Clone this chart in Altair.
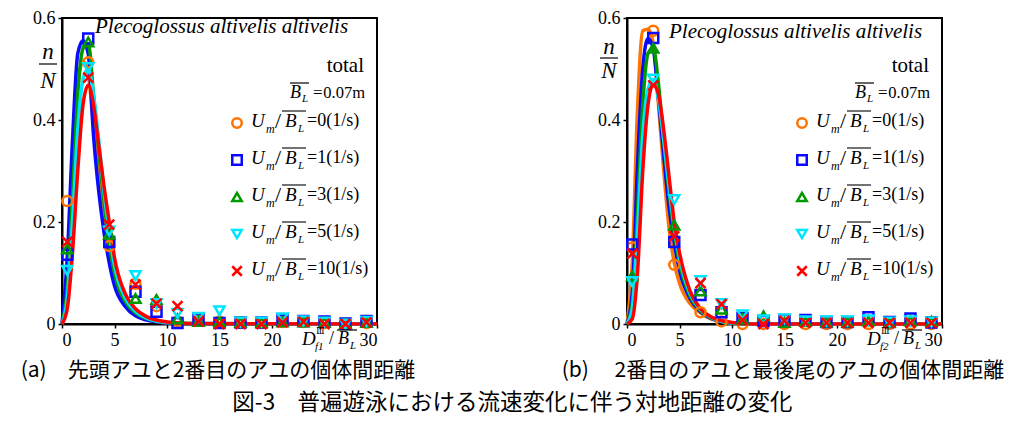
import altair as alt
import pandas as pd

# ---------------- data ----------------
SERIES = ["0", "1", "3", "5", "10"]
COLORS = ["#ff7300", "#0a0aff", "#009900", "#00e5ff", "#ff0000"]
SHAPES = ["circle", "square", "triangle-up", "triangle-down", "M-1,-1L1,1M-1,1L1,-1"]

BIN_X = [0.5, 2.5, 4.5, 7, 9, 11, 13, 15, 17, 19, 21, 23, 25, 27, 29]
CURVE_X = [0, 0.5, 1, 1.5, 2, 2.5, 3, 3.5, 4, 4.5, 5, 6, 7, 8, 10, 12, 30]

# panel (a): measured frequencies
A_PT_0 = [0.241, 0.513, 0.153, 0.079, 0.035, 0.005, 0.008, 0.005, 0.002, 0.002, 0.004, 0.004, 0.002, 0.0, 0.002]
A_PT_1 = [0.136, 0.560, 0.161, 0.063, 0.024, 0.002, 0.010, 0.002, 0.003, 0.003, 0.008, 0.006, 0.005, 0.001, 0.006]
A_PT_3 = [0.147, 0.553, 0.176, 0.050, 0.048, 0.010, 0.005, 0.005, 0.003, 0.003, 0.004, 0.004, 0.003, 0.001, 0.003]
A_PT_5 = [0.105, 0.503, 0.182, 0.095, 0.040, 0.021, 0.013, 0.026, 0.004, 0.004, 0.012, 0.006, 0.004, 0.0, 0.005]
A_PT_10 = [0.161, 0.483, 0.195, 0.077, 0.040, 0.035, 0.005, 0.0, 0.0, 0.0, 0.003, 0.004, 0.0, 0.0, 0.003]

# panel (a): fitted curves
A_CV_0 = [0, 0.09, 0.30, 0.47, 0.515, 0.49, 0.39, 0.30, 0.21, 0.14, 0.09, 0.042, 0.020, 0.010, 0.002, 0.0005, 0]
A_CV_1 = [0, 0.13, 0.36, 0.53, 0.556, 0.53, 0.37, 0.26, 0.18, 0.12, 0.075, 0.035, 0.016, 0.008, 0.002, 0.0005, 0]
A_CV_3 = [0, 0.07, 0.25, 0.45, 0.54, 0.55, 0.45, 0.34, 0.24, 0.16, 0.10, 0.045, 0.022, 0.011, 0.003, 0.001, 0]
A_CV_5 = [0, 0.05, 0.20, 0.38, 0.48, 0.50, 0.45, 0.36, 0.26, 0.18, 0.115, 0.052, 0.025, 0.012, 0.003, 0.001, 0]
A_CV_10 = [0, 0.03, 0.14, 0.30, 0.43, 0.468, 0.43, 0.35, 0.27, 0.20, 0.13, 0.060, 0.030, 0.015, 0.004, 0.001, 0]

# panel (b): measured frequencies
B_PT_0 = [0.150, 0.575, 0.116, 0.023, 0.005, 0.0, 0.0, 0.0, 0.0, 0.0, 0.0, 0.0, 0.0, 0.0, 0.0]
B_PT_1 = [0.156, 0.561, 0.161, 0.057, 0.023, 0.012, 0.006, 0.008, 0.008, 0.004, 0.004, 0.013, 0.004, 0.011, 0.003]
B_PT_3 = [0.094, 0.541, 0.194, 0.065, 0.029, 0.010, 0.016, 0.003, 0.005, 0.004, 0.004, 0.006, 0.003, 0.006, 0.005]
B_PT_5 = [0.083, 0.480, 0.244, 0.085, 0.040, 0.018, 0.008, 0.010, 0.006, 0.006, 0.006, 0.008, 0.004, 0.006, 0.004]
B_PT_10 = [0.138, 0.468, 0.172, 0.080, 0.039, 0.008, 0.0, 0.006, 0.002, 0.002, 0.002, 0.002, 0.002, 0.002, 0.002]

# panel (b): fitted curves
B_CV_0 = [0, 0.12, 0.42, 0.575, 0.578, 0.55, 0.43, 0.30, 0.19, 0.12, 0.08, 0.040, 0.022, 0.010, 0.002, 0.0, 0]
B_CV_1 = [0, 0.06, 0.31, 0.50, 0.56, 0.54, 0.44, 0.33, 0.23, 0.16, 0.105, 0.050, 0.024, 0.011, 0.002, 0.0, 0]
B_CV_3 = [0, 0.04, 0.22, 0.43, 0.53, 0.54, 0.47, 0.36, 0.26, 0.18, 0.12, 0.055, 0.026, 0.012, 0.002, 0.0, 0]
B_CV_5 = [0, 0.03, 0.18, 0.37, 0.46, 0.48, 0.44, 0.36, 0.27, 0.19, 0.13, 0.060, 0.028, 0.013, 0.002, 0.0, 0]
B_CV_10 = [0, 0.01, 0.10, 0.30, 0.43, 0.47, 0.45, 0.38, 0.29, 0.20, 0.14, 0.065, 0.030, 0.014, 0.003, 0.0, 0]

X_TICKS = [0, 5, 10, 15, 20, 25, 30]
Y_TICKS = [0, 0.2, 0.4, 0.6]

SPECIES = "Plecoglossus altivelis altivelis"
TOTAL = "total"
BL_EQ = "="
BL_VALUE = "0.07m"
CAP_A = "(a)\u3000先頭アユと2番目のアユの個体間距離"
CAP_B = "(b)\u3000 2番目のアユと最後尾のアユの個体間距離"
FIG_CAP = "図-3\u3000普遍遊泳における流速変化に伴う対地距離の変化"

# ---------------- layout / style ----------------
W, H = 315, 306
SERIF = "Liberation Serif"
JP = "Noto Sans CJK JP"


def txt(text, x, y, size=18, italic=False, align="left", baseline="middle", font=SERIF, weight="normal"):
    return alt.Chart(pd.DataFrame({"t": [text]})).mark_text(
        font=font, fontSize=size, fontStyle="italic" if italic else "normal",
        fontWeight=weight, align=align, baseline=baseline, color="black"
    ).encode(x=alt.value(x), y=alt.value(y), text="t:N")


def hline(x1, x2, y, w=1.2):
    return alt.Chart(pd.DataFrame({"k": [0]})).mark_rule(color="black", strokeWidth=w).encode(
        x=alt.value(x1), x2=alt.value(x2), y=alt.value(y))


def panel(pts, cvs, sub, caption, title_x, title_y, nx, n_y, bar_y, N_y):
    xs = alt.X("x:Q", scale=alt.Scale(domain=[0, 30], nice=False),
               axis=alt.Axis(values=X_TICKS, labelExpr="datum.value == 25 ? '' : datum.label",
                             title=None, grid=False, labelFont=SERIF, labelFontSize=18))
    ys = alt.Y("y:Q", scale=alt.Scale(domain=[0, 0.6], nice=False),
               axis=alt.Axis(values=Y_TICKS,
                             labelExpr="datum.value == 0 ? '0' : format(datum.value, '.1f')",
                             title=None, grid=False, labelFont=SERIF, labelFontSize=18))
    color = alt.Color("series:N", scale=alt.Scale(domain=SERIES, range=COLORS), legend=None)
    shape = alt.Shape("series:N", scale=alt.Scale(domain=SERIES, range=SHAPES), legend=None)

    layers = []
    for arr, c in zip(cvs, COLORS):
        df = pd.DataFrame({"x": CURVE_X, "y": arr})
        layers.append(alt.Chart(df).mark_line(color=c, strokeWidth=3.5, interpolate="monotone")
                      .encode(x=xs, y=ys))

    rows = []
    for s, arr in zip(SERIES, pts):
        for xv, yv in zip(BIN_X, arr):
            rows.append({"x": xv, "y": yv, "series": s})
    pdf = pd.DataFrame(rows)
    layers.append(alt.Chart(pdf).mark_point(filled=False, strokeWidth=2.5, size=100, opacity=1)
                  .encode(x=xs, y=ys, color=color, shape=shape))

    # custom legend (rows laid out in plot-pixel space, converted to data units)
    ldf = pd.DataFrame({"series": SERIES, "label": SERIES, "i": list(range(len(SERIES)))})
    sx, y0, dy = 175, 105, 37
    base = alt.Chart(ldf).transform_calculate(y=f"0.6 - ({y0} + datum.i * {dy}) * {0.6 / H}")
    layers.append(base.mark_point(filled=False, strokeWidth=2.5, size=90, opacity=1)
                  .encode(x=alt.value(sx), y=ys, color=color, shape=shape))

    def ltext(t, dx, size, italic, ddy=0):
        return base.mark_text(text=t, font=SERIF, fontSize=size,
                              fontStyle="italic" if italic else "normal",
                              align="left", baseline="middle", dy=ddy, color="black"
                              ).encode(x=alt.value(sx + dx), y=ys)
    layers.append(ltext("U", 14, 19, True, -2))
    layers.append(ltext("m", 29, 12, True, 6))
    layers.append(ltext("/", 38, 22, False, -2))
    layers.append(ltext("B", 48, 19, True, -2))
    layers.append(ltext("L", 61, 11, True, 6))
    layers.append(base.mark_rule(color="black", strokeWidth=1.1, yOffset=-12)
                  .encode(x=alt.value(sx + 45), x2=alt.value(sx + 69), y=ys))
    layers.append(base.transform_calculate(lab="'=' + datum.label + '(1/s)'")
                  .mark_text(font=SERIF, fontSize=18, align="left", baseline="middle", dy=-2, color="black")
                  .encode(x=alt.value(sx + 70), y=ys, text="lab:N"))

    # species, total, B_L
    layers.append(txt(SPECIES, title_x, title_y, size=21, italic=True))
    layers.append(txt(TOTAL, W - 13, 48, size=21, align="right"))
    layers.append(txt("B", W - 87, 75, size=18, italic=True))
    layers.append(txt("L", W - 75, 81, size=11, italic=True))
    layers.append(hline(W - 87, W - 68, 65))
    layers.append(txt(BL_EQ, W - 64, 75, size=17))
    layers.append(txt(BL_VALUE, W - 12, 75, size=16.5, align="right"))

    # n / N
    layers.append(txt("n", nx, n_y, size=23, italic=True, align="center"))
    layers.append(hline(nx - 9, nx + 9, bar_y))
    layers.append(txt("N", nx, N_y, size=23, italic=True, align="center"))

    # x-axis variable label
    layers.append(txt("D", 240, H + 15, size=19, italic=True))
    layers.append(txt("Ⅲ", 254, H + 7, size=9, font="DejaVu Serif"))
    layers.append(txt(sub, 253, H + 23, size=11, italic=True))
    layers.append(txt("/", 267, H + 15, size=18))
    layers.append(txt("B", 276, H + 15, size=18, italic=True))
    layers.append(txt("L", 288, H + 22, size=11, italic=True))
    layers.append(hline(275, 295, H + 6))

    # caption
    layers.append(txt(caption, 156, H + 47, size=21, align="center", font=JP))

    return alt.layer(*layers).properties(width=W, height=H)


left = panel([A_PT_0, A_PT_1, A_PT_3, A_PT_5, A_PT_10],
             [A_CV_0, A_CV_1, A_CV_3, A_CV_5, A_CV_10],
             "f1", CAP_A, 33, 9, -14, 34, 46, 63)
right = panel([B_PT_0, B_PT_1, B_PT_3, B_PT_5, B_PT_10],
              [B_CV_0, B_CV_1, B_CV_3, B_CV_5, B_CV_10],
              "f2", CAP_B, 42, 14, -18, 29, 40, 53)

chart = alt.hconcat(
    left, right, spacing=143,
    config={
        "view": {"stroke": "black", "strokeWidth": 2},
        "axis": {"domainColor": "black", "domainWidth": 2, "tickColor": "black", "tickSize": 4,
                 "tickWidth": 1.5, "labelFont": SERIF, "labelFontSize": 18, "labelColor": "black",
                 "labelPadding": 3},
        "style": {"guide-label": {"font": SERIF, "fontSize": 18, "fill": "black"}},
    },
).properties(
    title=alt.TitleParams(FIG_CAP, orient="bottom", anchor="middle", font=JP, fontSize=22.5,
                          fontWeight="normal", color="black", offset=10),
    padding={"left": 11, "top": 0, "right": 2, "bottom": 2},
)

chart.save("out.html", embed_options={"renderer": "svg", "actions": False})
